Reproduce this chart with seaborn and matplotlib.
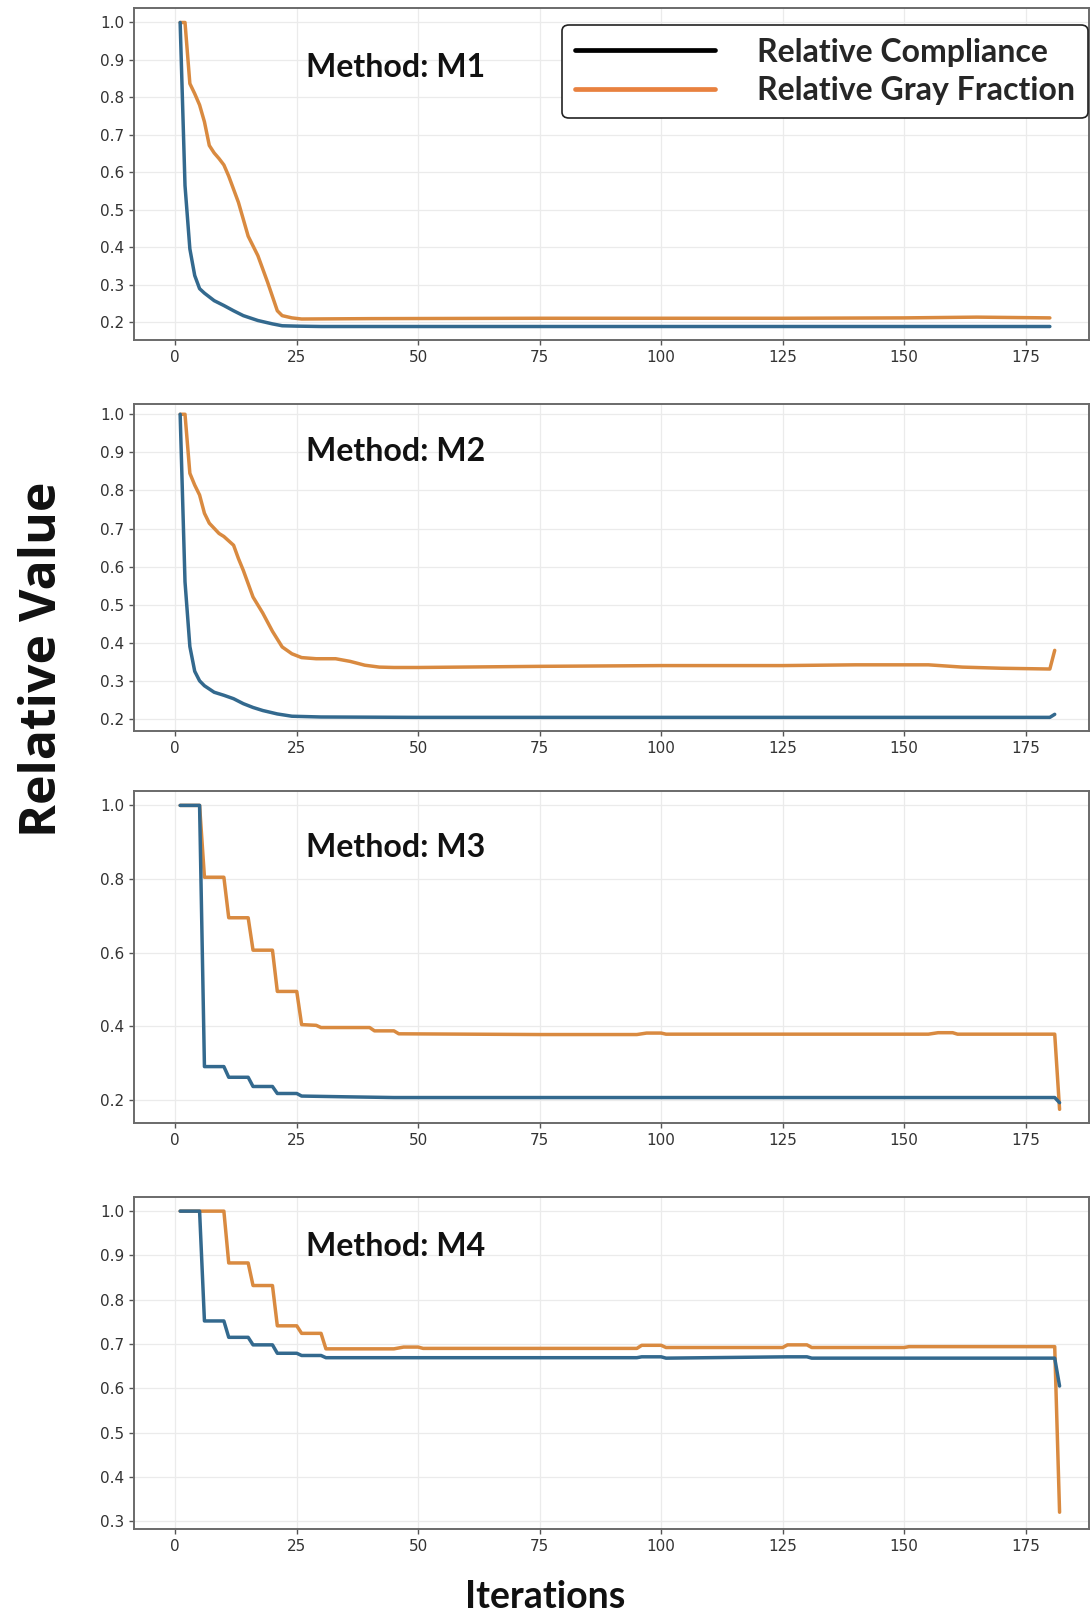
import matplotlib
matplotlib.use("Agg")
import matplotlib.pyplot as plt
from matplotlib.lines import Line2D
import seaborn as sns
import pandas as pd

# values (iteration, value) at each visible vertex
methods = ["M1", "M2", "M3", "M4"]

m1_comp_it = [1, 2, 3, 4, 5, 6, 7, 8, 10, 12, 14, 17, 20, 22, 25, 30, 50, 100, 150, 180]
m1_comp = [1.0, 0.565, 0.396, 0.325, 0.29, 0.278, 0.268, 0.258, 0.245, 0.231, 0.218,
           0.205, 0.196, 0.191, 0.19, 0.189, 0.189, 0.189, 0.189, 0.189]
m1_gray_it = [1, 2, 3, 4, 5, 6, 7, 8, 9, 10, 11, 12, 13, 15, 17, 19, 21, 22, 24, 26,
              40, 75, 100, 125, 150, 165, 180]
m1_gray = [1.0, 1.0, 0.837, 0.81, 0.78, 0.735, 0.672, 0.652, 0.637, 0.62, 0.59, 0.555,
           0.52, 0.43, 0.378, 0.307, 0.231, 0.218, 0.212, 0.209, 0.21, 0.211, 0.211,
           0.211, 0.212, 0.214, 0.212]

m2_comp_it = [1, 2, 3, 4, 5, 6, 8, 10, 12, 14, 16, 18, 21, 24, 30, 50, 100, 150, 180, 181]
m2_comp = [1.0, 0.56, 0.39, 0.325, 0.3, 0.287, 0.27, 0.262, 0.253, 0.24, 0.23, 0.222,
           0.213, 0.207, 0.205, 0.204, 0.204, 0.204, 0.204, 0.212]
m2_gray_it = [1, 2, 3, 4, 5, 6, 7, 9, 10, 12, 13, 14, 16, 18, 20, 22, 24, 26, 29, 33,
              36, 39, 42, 45, 50, 75, 100, 125, 140, 155, 162, 170, 180, 181]
m2_gray = [1.0, 1.0, 0.845, 0.814, 0.788, 0.74, 0.714, 0.687, 0.679, 0.656, 0.621,
           0.59, 0.52, 0.478, 0.43, 0.389, 0.371, 0.361, 0.358, 0.358, 0.351, 0.341,
           0.336, 0.335, 0.335, 0.338, 0.34, 0.34, 0.342, 0.342, 0.336, 0.333, 0.331,
           0.38]

m3_comp_it = [1, 5, 6, 10, 11, 15, 16, 20, 21, 25, 26, 35, 45, 100, 181, 182]
m3_comp = [1.0, 1.0, 0.291, 0.291, 0.262, 0.262, 0.237, 0.237, 0.218, 0.218, 0.211,
           0.209, 0.207, 0.207, 0.207, 0.193]
m3_gray_it = [1, 5, 6, 10, 11, 15, 16, 20, 21, 25, 26, 29, 30, 40, 41, 45, 46, 75, 95,
              97, 100, 101, 155, 157, 160, 161, 181, 182]
m3_gray = [1.0, 1.0, 0.805, 0.805, 0.695, 0.695, 0.607, 0.607, 0.495, 0.495, 0.405,
           0.403, 0.397, 0.397, 0.388, 0.388, 0.38, 0.378, 0.378, 0.382, 0.382, 0.379,
           0.379, 0.383, 0.383, 0.379, 0.379, 0.175]

m4_comp_it = [1, 5, 6, 10, 11, 15, 16, 20, 21, 25, 26, 30, 31, 95, 96, 100, 101, 126,
              130, 131, 181, 182]
m4_comp = [1.0, 1.0, 0.752, 0.752, 0.715, 0.715, 0.698, 0.698, 0.679, 0.679, 0.674,
           0.674, 0.669, 0.669, 0.671, 0.671, 0.668, 0.671, 0.671, 0.668, 0.668, 0.605]
m4_gray_it = [1, 10, 11, 15, 16, 20, 21, 25, 26, 30, 31, 45, 47, 50, 51, 95, 96, 100,
              101, 125, 126, 130, 131, 150, 151, 181, 182]
m4_gray = [1.0, 1.0, 0.883, 0.883, 0.832, 0.832, 0.741, 0.741, 0.724, 0.724, 0.689,
           0.689, 0.693, 0.693, 0.69, 0.69, 0.697, 0.697, 0.692, 0.692, 0.698, 0.698,
           0.692, 0.692, 0.694, 0.694, 0.32]

comp_series = [(m1_comp_it, m1_comp), (m2_comp_it, m2_comp),
               (m3_comp_it, m3_comp), (m4_comp_it, m4_comp)]
gray_series = [(m1_gray_it, m1_gray), (m2_gray_it, m2_gray),
               (m3_gray_it, m3_gray), (m4_gray_it, m4_gray)]

y_limits = [(0.153, 1.038), (0.168, 1.027), (0.138, 1.039), (0.282, 1.032)]
y_ticks = [[0.2, 0.3, 0.4, 0.5, 0.6, 0.7, 0.8, 0.9, 1.0],
           [0.2, 0.3, 0.4, 0.5, 0.6, 0.7, 0.8, 0.9, 1.0],
           [0.2, 0.4, 0.6, 0.8, 1.0],
           [0.3, 0.4, 0.5, 0.6, 0.7, 0.8, 0.9, 1.0]]
x_ticks = [0, 25, 50, 75, 100, 125, 150, 175]

BLUE = "#33698e"
ORANGE = "#d98a40"

sns.set_style("whitegrid", {
    "grid.color": "#ebebeb",
    "axes.edgecolor": "#6a6a6a",
    "xtick.bottom": True,
    "ytick.left": True,
})
plt.rcParams["font.family"] = ["DejaVu Sans"]

fig = plt.figure(figsize=(10.92, 16.16), dpi=100)
axes_box = [(0.1227, 0.7896, 0.8743, 0.2053),
            (0.1227, 0.5476, 0.8743, 0.2024),
            (0.1227, 0.3051, 0.8743, 0.2054),
            (0.1227, 0.0538, 0.8743, 0.2055)]
label_y = [0.82, 0.855, 0.83, 0.85]

for i, name in enumerate(methods):
    ax = fig.add_axes(axes_box[i])
    c_it, c_val = comp_series[i]
    g_it, g_val = gray_series[i]
    df = pd.concat([
        pd.DataFrame({"Iteration": c_it, "Value": c_val, "Series": "Relative Compliance"}),
        pd.DataFrame({"Iteration": g_it, "Value": g_val, "Series": "Relative Gray Fraction"}),
    ])
    sns.lineplot(data=df, x="Iteration", y="Value", hue="Series",
                 palette={"Relative Compliance": BLUE, "Relative Gray Fraction": ORANGE},
                 hue_order=["Relative Gray Fraction", "Relative Compliance"],
                 linewidth=2.5, ax=ax, legend=False, estimator=None, sort=False)
    ax.set_xlim(-8.5, 188)
    ax.set_ylim(*y_limits[i])
    ax.set_xticks(x_ticks)
    ax.set_yticks(y_ticks[i])
    ax.set_xlabel("")
    ax.set_ylabel("")
    ax.grid(True, color="#ebebeb", linewidth=0.9)
    ax.tick_params(axis="both", labelsize=11, colors="#555555",
                   labelcolor="#333333", length=3.5, width=1.0)
    for sp in ax.spines.values():
        sp.set_linewidth(1.4)
        sp.set_color("#6a6a6a")
    ax.text(0.18, label_y[i], f"Method: {name}", transform=ax.transAxes,
            fontsize=23, fontweight="bold", family=["Lato", "DejaVu Sans"],
            va="center", ha="left", color="#111111")

    if i == 0:
        handles = [Line2D([], [], color="black", lw=3.4),
                   Line2D([], [], color="#e8813f", lw=3.4)]
        leg = ax.legend(handles, ["Relative Compliance", "Relative Gray Fraction"],
                        loc="upper right", bbox_to_anchor=(0.999, 0.95),
                        borderaxespad=0.0,
                        prop={"family": ["Lato", "DejaVu Sans"], "weight": "bold",
                              "size": 23},
                        handlelength=4.4, handletextpad=1.3, borderpad=0.4,
                        labelspacing=0.3, frameon=True, fancybox=True,
                        framealpha=1.0, edgecolor="#222222")
        leg.get_frame().set_linewidth(1.2)

fig.text(0.039, 0.592, "Relative Value", rotation=90, va="center", ha="center",
         fontsize=36, fontweight="bold", family=["Open Sans", "DejaVu Sans"],
         color="#111111")
fig.text(0.499, 0.012, "Iterations", va="center", ha="center",
         fontsize=27, fontweight="bold", family=["Lato", "DejaVu Sans"],
         color="#111111")

fig.savefig("out.png", dpi=100)
